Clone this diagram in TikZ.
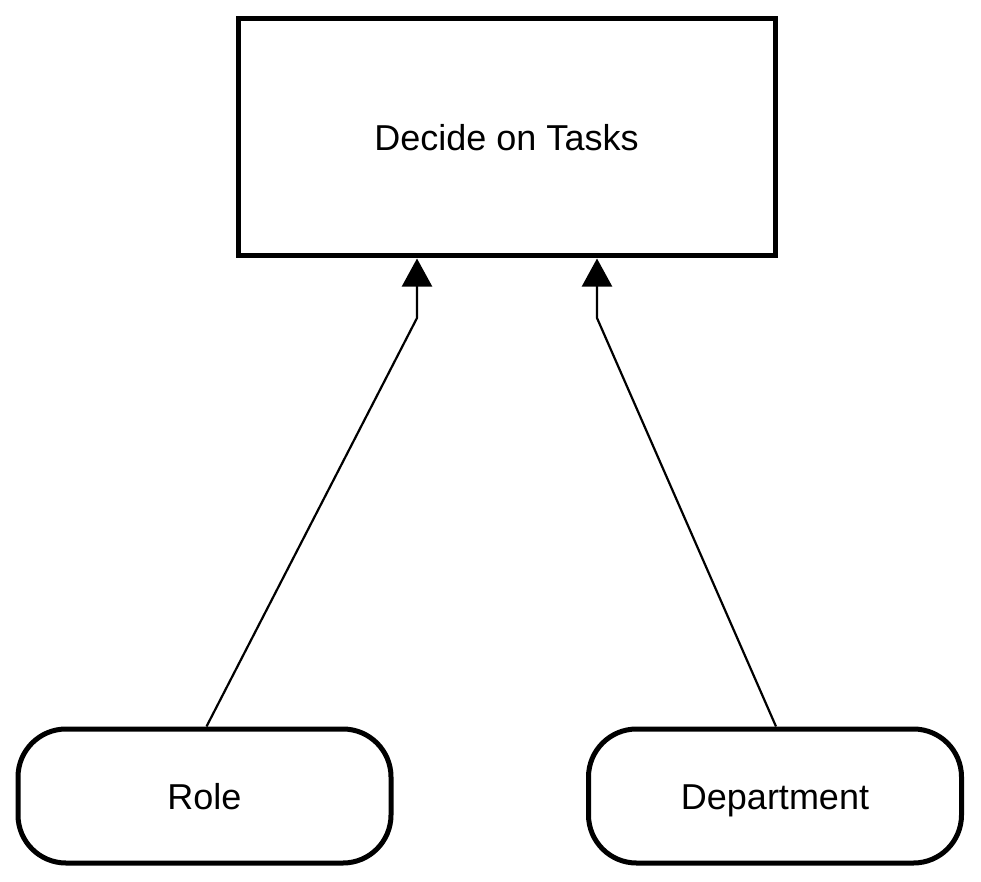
\documentclass[tikz,border=0pt]{standalone}
\usepackage{fontspec}
\setmainfont{Liberation Sans}
\usetikzlibrary{arrows.meta,positioning,calc}

\begin{document}
\begin{tikzpicture}[x=1pt,y=-1pt,
                    task node/.style={rectangle,draw,line width=5pt,fill=white,minimum width=537pt,minimum height=237pt,inner sep=0pt,text height=26pt,text depth=0pt,font=\fontsize{36}{43}\selectfont},
                    input node/.style={rectangle,rounded corners=48pt,draw,line width=5pt,fill=white,minimum width=373pt,minimum height=134pt,inner sep=0pt,text height=26pt,text depth=0pt,font=\fontsize{36}{43}\selectfont},
                    feed/.style={line width=2.2pt,-{Triangle[width=30pt,length=28pt]}}]
\useasboundingbox (0,0) rectangle (981,882);

\node[task node] (Tasks) at (506.5,137.5) {Decide on Tasks};

\node[input node] (Role) at (204.5,796) {Role};
\node[input node] (Department) at (775,796) {Department};

\coordinate (RoleBend) at (417,318);
\coordinate (DepartmentBend) at (597,318);

\draw[feed] ($(Role.north)+(2,0)$) -- (RoleBend) -- (RoleBend |- Tasks.south);
\draw[feed] ($(Department.north)+(1,0)$) -- (DepartmentBend) -- (DepartmentBend |- Tasks.south);

\end{tikzpicture}
\end{document}
